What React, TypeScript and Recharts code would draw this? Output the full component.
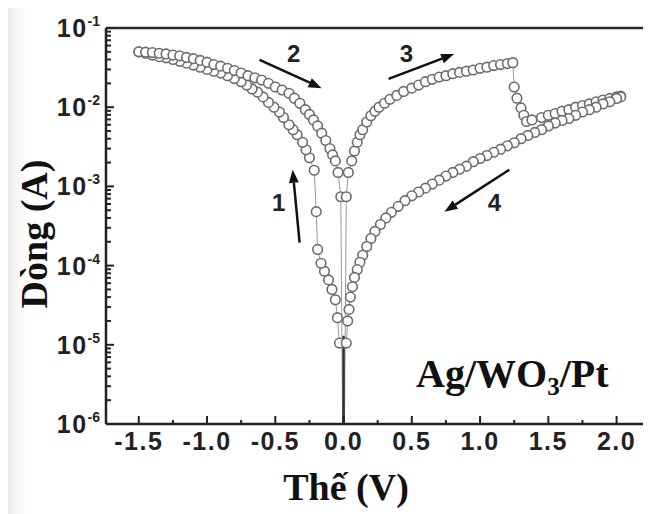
import React from 'react';
import { ComposedChart, Line, XAxis, YAxis, ReferenceLine, ReferenceDot } from 'recharts';

// Sweep 1: 0 -> -1.5 V (current rises)
const b1V = [-0.03, -0.045, -0.06, -0.085, -0.11, -0.14, -0.165, -0.19, -0.2, -0.215, -0.25, -0.275, -0.3, -0.34, -0.37, -0.4, -0.44, -0.47, -0.51, -0.55, -0.59, -0.63, -0.67, -0.71, -0.75, -0.8, -0.85, -0.9, -0.95, -1.0, -1.05, -1.1, -1.15, -1.2, -1.25, -1.3, -1.35, -1.4, -1.45, -1.5];
const b1I = [1.05e-5, 2.2e-5, 3.7e-5, 5.0e-5, 6.6e-5, 8.5e-5, 1.07e-4, 1.6e-4, 4.8e-4, 1.6e-3, 2.3e-3, 2.9e-3, 3.6e-3, 4.5e-3, 5.2e-3, 6.0e-3, 7.4e-3, 8.7e-3, 1.0e-2, 1.15e-2, 1.35e-2, 1.55e-2, 1.7e-2, 1.9e-2, 2.1e-2, 2.3e-2, 2.5e-2, 2.7e-2, 2.85e-2, 3.0e-2, 3.2e-2, 3.4e-2, 3.6e-2, 3.8e-2, 4.0e-2, 4.2e-2, 4.35e-2, 4.55e-2, 4.8e-2, 5.0e-2];

// Sweep 2: -1.5 -> 0 V
const b2V = [-1.5, -1.45, -1.4, -1.35, -1.3, -1.25, -1.2, -1.15, -1.1, -1.05, -1.0, -0.95, -0.9, -0.85, -0.8, -0.75, -0.7, -0.65, -0.6, -0.55, -0.5, -0.45, -0.4, -0.36, -0.32, -0.28, -0.25, -0.22, -0.19, -0.16, -0.13, -0.1, -0.08, -0.06, -0.04, -0.02];
const b2I = [5.0e-2, 4.95e-2, 4.9e-2, 4.8e-2, 4.7e-2, 4.55e-2, 4.45e-2, 4.25e-2, 4.1e-2, 3.9e-2, 3.7e-2, 3.45e-2, 3.3e-2, 3.1e-2, 2.9e-2, 2.7e-2, 2.5e-2, 2.35e-2, 2.2e-2, 2.0e-2, 1.8e-2, 1.65e-2, 1.5e-2, 1.3e-2, 1.12e-2, 9.3e-3, 8.1e-3, 6.9e-3, 5.8e-3, 4.7e-3, 3.8e-3, 3.0e-3, 2.5e-3, 2.1e-3, 1.5e-3, 7.4e-4];

// Sweep 3: 0 -> 2.0 V (reset near 1.25 V)
const b3V = [0.02, 0.035, 0.06, 0.08, 0.1, 0.12, 0.14, 0.17, 0.2, 0.23, 0.26, 0.3, 0.34, 0.39, 0.44, 0.5, 0.55, 0.6, 0.65, 0.7, 0.75, 0.8, 0.85, 0.9, 0.95, 1.0, 1.05, 1.1, 1.15, 1.2, 1.24, 1.25, 1.27, 1.3, 1.32, 1.34, 1.38, 1.45, 1.5, 1.55, 1.6, 1.65, 1.7, 1.75, 1.8, 1.85, 1.9, 1.95, 2.0, 2.03];
const b3I = [7.4e-4, 1.5e-3, 2.1e-3, 2.8e-3, 3.6e-3, 4.5e-3, 5.2e-3, 6.5e-3, 7.8e-3, 8.9e-3, 1.0e-2, 1.12e-2, 1.26e-2, 1.41e-2, 1.58e-2, 1.74e-2, 1.9e-2, 2.1e-2, 2.25e-2, 2.4e-2, 2.5e-2, 2.65e-2, 2.75e-2, 2.85e-2, 2.95e-2, 3.1e-2, 3.2e-2, 3.35e-2, 3.45e-2, 3.55e-2, 3.65e-2, 1.8e-2, 1.3e-2, 9.8e-3, 7.9e-3, 6.6e-3, 6.9e-3, 7.4e-3, 7.9e-3, 8.3e-3, 8.9e-3, 9.3e-3, 1.0e-2, 1.05e-2, 1.1e-2, 1.17e-2, 1.23e-2, 1.29e-2, 1.35e-2, 1.38e-2];

// Sweep 4: 2.0 -> 0 V
const b4V = [2.03, 2.0, 1.95, 1.9, 1.85, 1.8, 1.75, 1.7, 1.65, 1.6, 1.55, 1.5, 1.45, 1.4, 1.35, 1.3, 1.25, 1.2, 1.15, 1.1, 1.05, 1.0, 0.95, 0.9, 0.85, 0.8, 0.75, 0.7, 0.65, 0.6, 0.55, 0.5, 0.45, 0.4, 0.35, 0.31, 0.27, 0.23, 0.2, 0.17, 0.14, 0.12, 0.1, 0.08, 0.065, 0.05, 0.04, 0.03, 0.02];
const b4I = [1.35e-2, 1.29e-2, 1.17e-2, 1.1e-2, 1.0e-2, 9.3e-3, 8.7e-3, 7.9e-3, 7.2e-3, 6.8e-3, 6.3e-3, 5.8e-3, 5.2e-3, 4.8e-3, 4.4e-3, 4.0e-3, 3.55e-3, 3.25e-3, 2.95e-3, 2.7e-3, 2.45e-3, 2.25e-3, 2.05e-3, 1.8e-3, 1.65e-3, 1.5e-3, 1.35e-3, 1.2e-3, 1.07e-3, 9.5e-4, 8.5e-4, 7.6e-4, 6.6e-4, 5.6e-4, 4.7e-4, 4.0e-4, 3.3e-4, 2.7e-4, 2.2e-4, 1.74e-4, 1.35e-4, 1.1e-4, 8.9e-5, 7.1e-5, 5.4e-5, 4.0e-5, 2.8e-5, 2.0e-5, 1.05e-5];

// traces that drop to the floor at 0 V (no markers)
const zeroLeftV = [-0.02, -0.007];
const zeroLeftI = [7.4e-4, 1e-6];
const zeroRightV = [0.02, 0.007];
const zeroRightI = [7.4e-4, 1e-6];
const stemV = [0, 0];
const stemI = [1.3e-5, 1e-6];

const xDomain = [-1.74, 2.23];
const yDomain = [1e-6, 1e-1];
const xTicks = [-1.5, -1.25, -1.0, -0.75, -0.5, -0.25, 0, 0.25, 0.5, 0.75, 1.0, 1.25, 1.5, 1.75, 2.0];
const xMajor = [-1.5, -1.0, -0.5, 0, 0.5, 1.0, 1.5, 2.0];
const yDecades = [1e-6, 1e-5, 1e-4, 1e-3, 1e-2, 1e-1];
const yMinorSteps = [2, 3, 4, 5, 6, 7, 8, 9];

// sweep-direction arrows [V, I] tail -> head, and their numbers
const arrowFrom = [[-0.322, 1.95e-4], [-0.615, 3.97e-2], [0.33, 2.28e-2], [1.214, 1.62e-3]];
const arrowTo = [[-0.373, 1.62e-3], [-0.161, 1.74e-2], [0.81, 4.7e-2], [0.739, 4.8e-4]];
const arrowLabels = ['1', '2', '3', '4'];
const arrowLabelAt = [[-0.475, 6.2e-4], [-0.366, 4.8e-2], [0.46, 4.8e-2], [1.105, 6.3e-4]];
const deviceAt = [1.236, 2.95e-6];

const SANS = '"Liberation Sans", Arial, sans-serif';
const SERIF = '"Liberation Serif", "Times New Roman", serif';
const INK = '#222';

const toRows = (vs: number[], is: number[]) => vs.map((v, k) => ({ v, i: is[k] }));
const yTicks = yDecades.flatMap((d, k) => (k < yDecades.length - 1 ? [d, ...yMinorSteps.map((m) => m * d)] : [d]));

function XTick(props: any) {
  const { x, y, payload } = props;
  const v = payload.value as number;
  const major = xMajor.some((m) => Math.abs(m - v) < 1e-6);
  return (
    <g>
      <line x1={x} x2={x} y1={y} y2={y - (major ? 8 : 4)} stroke={INK} strokeWidth={2} />
      {major && (
        <text x={x} y={y + 26} textAnchor="middle" fontFamily={SANS} fontWeight={700} fontSize={25} letterSpacing={1.5} fill={INK}>
          {v.toFixed(1)}
        </text>
      )}
    </g>
  );
}

function YTick(props: any) {
  const { x, y, payload } = props;
  const lg = Math.log10(payload.value);
  const major = Math.abs(lg - Math.round(lg)) < 1e-6;
  return (
    <g>
      <line x1={x} x2={x + (major ? 8 : 5)} y1={y} y2={y} stroke={INK} strokeWidth={2} />
      {major && (
        <text x={x - 6} y={y + 9} textAnchor="end" fontFamily={SANS} fontWeight={700} fill={INK}>
          <tspan fontSize={25} letterSpacing={1.5}>10</tspan>
          <tspan fontSize={14} dy={-11}>{String(Math.round(lg))}</tspan>
        </text>
      )}
    </g>
  );
}

function Arrow(props: any) {
  const { x1, y1, x2, y2 } = props;
  const ang = Math.atan2(y2 - y1, x2 - x1);
  const len = 13;
  const half = 5;
  const bx = x2 - len * Math.cos(ang);
  const by = y2 - len * Math.sin(ang);
  const px = -Math.sin(ang) * half;
  const py = Math.cos(ang) * half;
  return (
    <g>
      <line x1={x1} y1={y1} x2={bx} y2={by} stroke="#111" strokeWidth={2.5} />
      <polygon points={`${x2},${y2} ${bx + px},${by + py} ${bx - px},${by - py}`} fill="#111" />
    </g>
  );
}

const dotStyle = { r: 4.8, stroke: '#6c6c6c', strokeWidth: 1.6, fill: '#fff' };

export default function App() {
  const sweeps = [toRows(b1V, b1I), toRows(b2V, b2I), toRows(b3V, b3I), toRows(b4V, b4I)];
  return (
    <div
      style={{
        marginTop: -8,
        marginLeft: -8,
        width: 651,
        height: 514,
        background: 'linear-gradient(to right, #d9d9d9 0px, #f1f1f1 12px, #ffffff 26px)',
      }}
    >
      <ComposedChart width={651} height={514} margin={{ top: 28, right: 3, bottom: 0, left: 0 }}>
        <XAxis
          type="number"
          dataKey="v"
          domain={xDomain}
          allowDataOverflow
          ticks={xTicks}
          interval={0}
          tickSize={0}
          tickMargin={0}
          tick={(p: any) => <XTick {...p} />}
          axisLine={{ stroke: INK, strokeWidth: 2.5 }}
          height={90}
          label={{
            content: (p: any) => {
              const vb = p.viewBox;
              return (
                <text x={vb.x + 240} y={vb.y + 76} textAnchor="middle" fontFamily={SERIF} fontWeight={700} fontSize={38} fill="#111">
                  Thế (V)
                </text>
              );
            },
          }}
        />
        <YAxis
          type="number"
          dataKey="i"
          scale="log"
          domain={yDomain}
          allowDataOverflow
          ticks={yTicks}
          interval={0}
          tickSize={0}
          tickMargin={0}
          tick={(p: any) => <YTick {...p} />}
          axisLine={{ stroke: INK, strokeWidth: 2.5 }}
          width={106}
          label={{
            content: (p: any) => {
              const vb = p.viewBox;
              const cx = vb.x + 47;
              const cy = vb.y + 206;
              return (
                <text x={cx} y={cy} transform={`rotate(-90, ${cx}, ${cy})`} textAnchor="middle" fontFamily={SERIF} fontWeight={700} fontSize={38} fill="#111">
                  Dòng (A)
                </text>
              );
            },
          }}
        />
        <ReferenceLine y={yDomain[1]} stroke="#2a2a2a" strokeWidth={2.5} />
        <ReferenceLine x={xDomain[1]} stroke="#555" strokeWidth={1.5} />

        <Line data={toRows(zeroLeftV, zeroLeftI)} dataKey="i" stroke="#9a9a9a" strokeWidth={1} dot={false} isAnimationActive={false} />
        <Line data={toRows(zeroRightV, zeroRightI)} dataKey="i" stroke="#9a9a9a" strokeWidth={1} dot={false} isAnimationActive={false} />
        {sweeps.map((rows, k) => (
          <Line key={k} data={rows} dataKey="i" stroke="#999" strokeWidth={1} dot={dotStyle} activeDot={false} isAnimationActive={false} />
        ))}
        <Line data={toRows(stemV, stemI)} dataKey="i" stroke="#333" strokeWidth={2.5} dot={false} isAnimationActive={false} />

        {arrowFrom.map((f, k) => (
          <ReferenceLine
            key={`a${k}`}
            segment={[{ x: f[0], y: f[1] }, { x: arrowTo[k][0], y: arrowTo[k][1] }]}
            shape={(p: any) => <Arrow {...p} />}
            ifOverflow="visible"
          />
        ))}
        {arrowLabels.map((t, k) => (
          <ReferenceDot
            key={`l${k}`}
            x={arrowLabelAt[k][0]}
            y={arrowLabelAt[k][1]}
            r={0}
            ifOverflow="visible"
            shape={(p: any) => (
              <text x={p.cx} y={p.cy} textAnchor="middle" dominantBaseline="central" fontFamily={SANS} fontWeight={700} fontSize={24} fill={INK}>
                {t}
              </text>
            )}
          />
        ))}
        <ReferenceDot
          x={deviceAt[0]}
          y={deviceAt[1]}
          r={0}
          ifOverflow="visible"
          shape={(p: any) => (
            <text x={p.cx} y={p.cy} textAnchor="middle" fontFamily={SERIF} fontWeight={700} fontSize={40} fill="#111">
              Ag/WO<tspan fontSize={25} dy={8}>3</tspan>
              <tspan dy={-8}>/Pt</tspan>
            </text>
          )}
        />
      </ComposedChart>
    </div>
  );
}
